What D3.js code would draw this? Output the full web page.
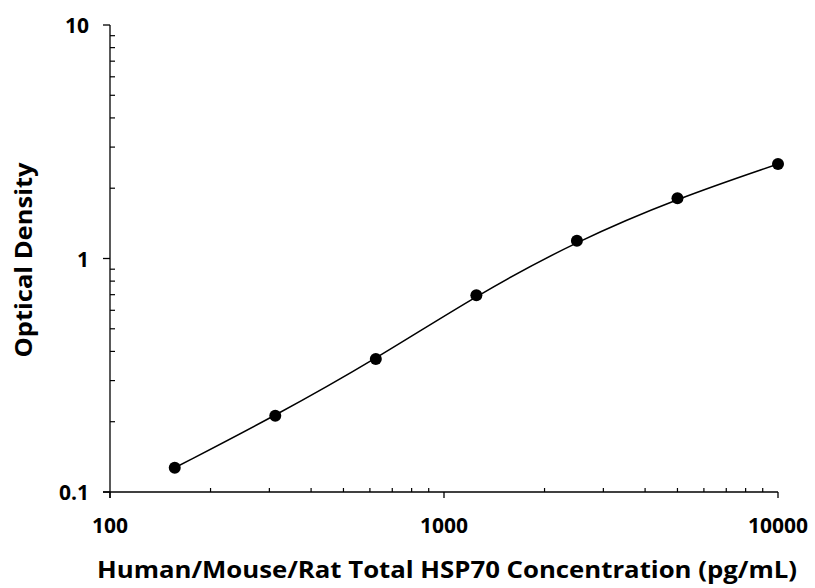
<!DOCTYPE html>
<html>
<head>
<meta charset="utf-8">
<script src="https://cdn.jsdelivr.net/npm/d3@7"></script>
<style>
  html, body { margin: 0; padding: 0; background: #fff; }
  svg { display: block; }
  text { font-family: "Open Sans", "DejaVu Sans", sans-serif; font-weight: 700; fill: #000; }
</style>
</head>
<body>
<svg id="chart" width="815" height="588"></svg>
<script>
// Data
const concentrations = [156.25, 312.5, 625, 1250, 2500, 5000, 10000];
const opticalDensity = [0.127, 0.212, 0.371, 0.696, 1.19, 1.81, 2.54];
const xTickValues = [100, 1000, 10000];
const xTickLabels = ["100", "1000", "10000"];
const yTickValues = [0.1, 1, 10];
const yTickLabels = ["0.1", "1", "10"];
const xTitle = "Human/Mouse/Rat Total HSP70 Concentration (pg/mL)";
const yTitle = "Optical Density";

const svg = d3.select("#chart");
const mLeft = 110, mRight = 778, mTop = 25, mBottom = 492;

const x = d3.scaleLog().domain([100, 10000]).range([mLeft, mRight]);
const y = d3.scaleLog().domain([0.1, 10]).range([mBottom, mTop]);

// minor ticks
const xMinor = [];
for (let d = 100; d < 10000; d *= 10) for (let k = 2; k <= 9; k++) xMinor.push(d * k);
const yMinor = [];
for (let d = 0.1; d < 9.99; d *= 10) for (let k = 2; k <= 9; k++) yMinor.push(+(d * k).toFixed(3));

const g = svg.append("g");

// X axis
const xAxis = g.append("g").attr("transform", `translate(0,${mBottom})`);
xAxis.append("line").attr("x1", mLeft - 7).attr("x2", mRight).attr("stroke", "#000").attr("stroke-width", 1.3);
xAxis.selectAll(".xmaj").data(xTickValues).enter().append("line")
  .attr("x1", d => x(d)).attr("x2", d => x(d)).attr("y1", 0).attr("y2", 6)
  .attr("stroke", "#000").attr("stroke-width", 1.3);
xAxis.selectAll(".xmin").data(xMinor).enter().append("line")
  .attr("x1", d => x(d)).attr("x2", d => x(d)).attr("y1", 0).attr("y2", -4)
  .attr("stroke", "#000").attr("stroke-width", 1.2);
xAxis.selectAll(".xlab").data(xTickValues).enter().append("text")
  .attr("x", d => x(d)).attr("y", 41).attr("text-anchor", "middle")
  .attr("font-size", 21).text((d, i) => xTickLabels[i]);

// Y axis
const yAxis = g.append("g").attr("transform", `translate(${mLeft},0)`);
yAxis.append("line").attr("y1", mTop).attr("y2", mBottom + 6).attr("stroke", "#000").attr("stroke-width", 1.3);
yAxis.selectAll(".ymaj").data(yTickValues).enter().append("line")
  .attr("y1", d => y(d)).attr("y2", d => y(d)).attr("x1", 0).attr("x2", -7)
  .attr("stroke", "#000").attr("stroke-width", 1.3);
yAxis.selectAll(".ymin").data(yMinor).enter().append("line")
  .attr("y1", d => y(d)).attr("y2", d => y(d)).attr("x1", 0).attr("x2", 5)
  .attr("stroke", "#000").attr("stroke-width", 1.2);
yAxis.selectAll(".ylab").data(yTickValues).enter().append("text")
  .attr("x", -21).attr("y", d => y(d) + 8).attr("text-anchor", "end")
  .attr("font-size", 21).text((d, i) => yTickLabels[i]);

// Curve
const pts = concentrations.map((c, i) => [c, opticalDensity[i]]);
const line = d3.line().x(d => x(d[0])).y(d => y(d[1])).curve(d3.curveBasis);
g.append("path").datum(pts).attr("d", line).attr("fill", "none")
  .attr("stroke", "#000").attr("stroke-width", 1.5);

// Points
g.selectAll(".pt").data(pts).enter().append("circle")
  .attr("cx", d => x(d[0])).attr("cy", d => y(d[1])).attr("r", 6).attr("fill", "#000");

// Titles
svg.append("text").attr("x", 447).attr("y", 578).attr("text-anchor", "middle")
  .attr("font-size", 24).attr("textLength", 700).attr("lengthAdjust", "spacingAndGlyphs").text(xTitle);
svg.append("text").attr("transform", "translate(32,260) rotate(-90)").attr("text-anchor", "middle")
  .attr("font-size", 24).attr("textLength", 195).attr("lengthAdjust", "spacingAndGlyphs").text(yTitle);
</script>
</body>
</html>
